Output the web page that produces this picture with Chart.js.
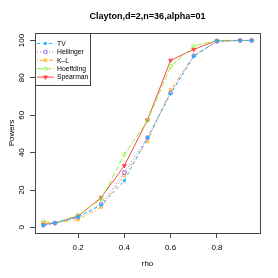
<!DOCTYPE html>
<html>
<head>
<meta charset="utf-8">
<script src="https://cdn.jsdelivr.net/npm/chart.js@4"></script>
<style>
  html, body { margin: 0; padding: 0; background: #fff; }
  canvas { display: block; }
</style>
</head>
<body>
<canvas id="chart" width="278" height="278"></canvas>
<script>
const rho = [0.05, 0.1, 0.2, 0.3, 0.4, 0.5, 0.6, 0.7, 0.8, 0.9, 0.95];
const tv        = [1.1, 2.3, 5.5, 12.0, 25.0, 48.0, 71.4, 91.5, 99.5, 100, 100];
const hellinger = [1.1, 2.3, 5.5, 12.5, 29.4, 48.0, 72.0, 91.8, 99.5, 100, 100];
const kl        = [2.3, 2.3, 4.2, 11.0, 27.8, 46.2, 73.5, 92.0, 99.5, 100, 100];
const hoeffding = [3.2, 2.3, 6.5, 15.2, 39.0, 57.0, 86.2, 97.0, 100, 100, 100];
const spearman  = [1.6, 2.3, 6.0, 16.0, 33.0, 57.5, 89.4, 95.2, 100, 100, 100];
const xTicks = [0.2, 0.4, 0.6, 0.8];
const yTicks = [0, 20, 40, 60, 80, 100];
const seriesNames = ['TV', 'Hellinger', 'K\u2013L', 'Hoeffding', 'Spearman'];

const FONT = '"Liberation Sans", Arial, sans-serif';

function series(label, values, color, dash, style, filled, radius, rot) {
    return {
        label: label,
        data: rho.map((x, i) => ({ x: x, y: values[i] })),
        borderColor: color,
        borderWidth: 1,
        borderDash: dash,
        pointStyle: style,
        pointRotation: rot || 0,
        pointRadius: radius,
        pointBorderWidth: 1,
        pointBorderColor: color,
        pointBackgroundColor: filled ? color : 'rgba(0,0,0,0)',
        fill: false,
        tension: 0
    };
}

const datasets = [
    series(seriesNames[0], tv, '#1EB4FF', [3, 3], 'rect', true, 1.3),
    series(seriesNames[1], hellinger, '#A070F0', [1, 2], 'circle', false, 1.9),
    series(seriesNames[2], kl, '#FFB020', [1, 2, 4, 2], 'rect', false, 1.8),
    series(seriesNames[3], hoeffding, '#90F040', [6, 2], 'rectRot', false, 2.2),
    series(seriesNames[4], spearman, '#FF4545', [], 'triangle', true, 2.2, 180)
];

const rStyle = {
    id: 'rStyle',
    afterDraw(c) {
        const ctx = c.ctx;
        const a = c.chartArea;
        const ys = c.scales.y;
        ctx.save();
        // plot box
        ctx.strokeStyle = '#444';
        ctx.lineWidth = 1;
        ctx.strokeRect(a.left + 0.5, a.top + 0.5, a.right - a.left, a.bottom - a.top);
        // y tick labels, rotated like R
        ctx.fillStyle = '#000';
        ctx.font = '8px ' + FONT;
        ctx.textAlign = 'center';
        ctx.textBaseline = 'middle';
        yTicks.forEach(v => {
            ctx.save();
            ctx.translate(a.left - 13, ys.getPixelForValue(v));
            ctx.rotate(-Math.PI / 2);
            ctx.fillText(String(v), 0, 0);
            ctx.restore();
        });
        // title
        ctx.font = 'bold 9px ' + FONT;
        ctx.fillText('Clayton,d=2,n=36,alpha=01', (a.left + a.right) / 2, 17);
        // axis titles
        ctx.font = '8px ' + FONT;
        ctx.fillText('rho', (a.left + a.right) / 2, 264);
        ctx.save();
        ctx.translate(12, (a.top + a.bottom) / 2);
        ctx.rotate(-Math.PI / 2);
        ctx.fillText('Powers', 0, 0);
        ctx.restore();
        // legend
        const lx = a.left, ly = a.top;
        ctx.fillStyle = '#fff';
        ctx.fillRect(lx + 1, ly + 1, 54, 51);
        ctx.strokeStyle = '#444';
        ctx.strokeRect(lx + 0.5, ly + 0.5, 55, 52);
        datasets.forEach((d, i) => {
            const y = ly + 10.5 + i * 8.4;
            ctx.strokeStyle = d.borderColor;
            ctx.setLineDash(d.borderDash);
            ctx.beginPath();
            ctx.moveTo(lx + 2, y);
            ctx.lineTo(lx + 19, y);
            ctx.stroke();
            ctx.setLineDash([]);
            ctx.fillStyle = d.pointBackgroundColor;
            ctx.strokeStyle = d.borderColor;
            Chart.helpers.drawPoint(ctx, {
                pointStyle: d.pointStyle,
                rotation: d.pointRotation,
                radius: d.pointRadius,
                borderWidth: 1
            }, lx + 10.5, y);
            ctx.fillStyle = '#000';
            ctx.textAlign = 'left';
            ctx.font = '6.8px ' + FONT;
            ctx.fillText(d.label, lx + 22, y + 0.5);
        });
        ctx.restore();
    }
};

new Chart(document.getElementById('chart'), {
    type: 'line',
    data: { datasets: datasets },
    options: {
        responsive: false,
        animation: false,
        layout: { padding: { left: 0, top: 33, right: 18, bottom: 0 } },
        plugins: { legend: { display: false }, title: { display: false }, tooltip: { enabled: false } },
        scales: {
            x: {
                type: 'linear',
                min: 0.014,
                max: 0.986,
                afterBuildTicks: s => { s.ticks = xTicks.map(v => ({ value: v })); },
                afterFit: s => { s.height = 45; },
                grid: { drawOnChartArea: false, drawTicks: true, tickLength: 5, color: '#444' },
                border: { display: false },
                ticks: {
                    color: '#000',
                    font: { size: 8, family: FONT },
                    maxRotation: 0,
                    padding: 5,
                    callback: v => String(v)
                }
            },
            y: {
                min: -3,
                max: 104,
                afterBuildTicks: s => { s.ticks = yTicks.map(v => ({ value: v })); },
                afterFit: s => { s.width = 35; },
                grid: { drawOnChartArea: false, drawTicks: true, tickLength: 5, color: '#444' },
                border: { display: false },
                ticks: { display: false }
            }
        }
    },
    plugins: [rStyle]
});
</script>
</body>
</html>
